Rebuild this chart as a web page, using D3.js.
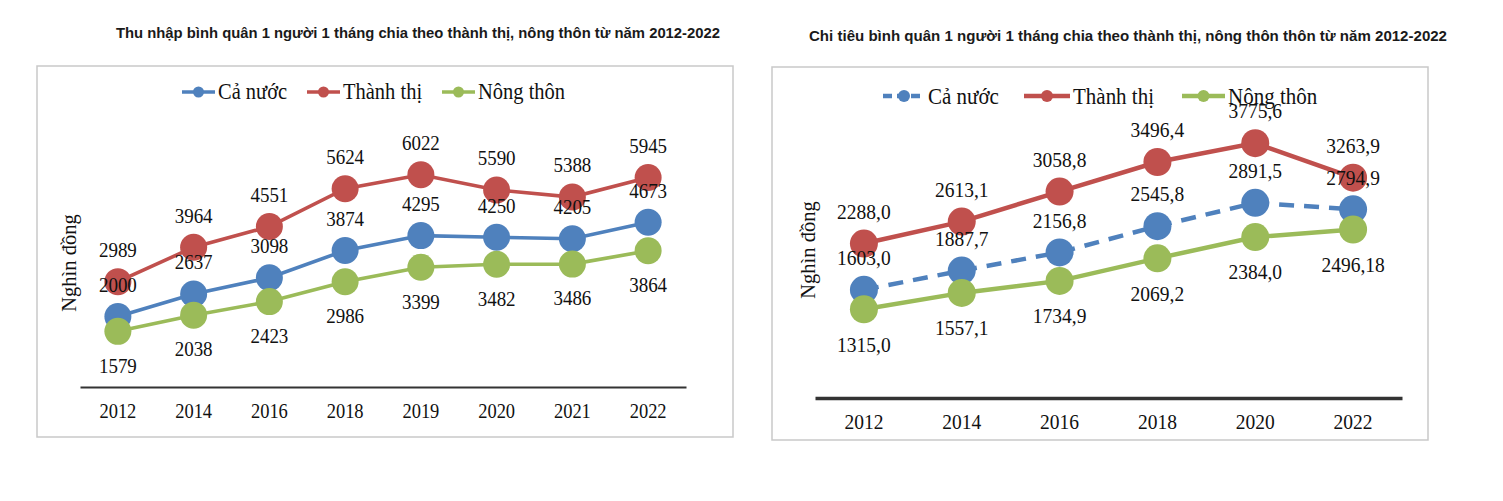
<!DOCTYPE html>
<html>
<head>
<meta charset="utf-8">
<script src="https://cdn.jsdelivr.net/npm/d3@7"></script>
<style>
  html, body { margin: 0; padding: 0; background: #fff; }
  svg { display: block; }
</style>
</head>
<body>
<svg id="chart" width="1503" height="501"></svg>
<script>
// ---------- DATA ----------
const seriesNames = ["Cả nước", "Thành thị", "Nông thôn"];

const incomeYears = ["2012", "2014", "2016", "2018", "2019", "2020", "2021", "2022"];
const incomeCaNuoc = [2000, 2637, 3098, 3874, 4295, 4250, 4205, 4673];
const incomeThanhThi = [2989, 3964, 4551, 5624, 6022, 5590, 5388, 5945];
const incomeNongThon = [1579, 2038, 2423, 2986, 3399, 3482, 3486, 3864];

const spendYears = ["2012", "2014", "2016", "2018", "2020", "2022"];
const spendCaNuoc = [1603.0, 1887.7, 2156.8, 2545.8, 2891.5, 2794.9];
const spendThanhThi = [2288.0, 2613.1, 3058.8, 3496.4, 3775.6, 3263.9];
const spendNongThon = [1315.0, 1557.1, 1734.9, 2069.2, 2384.0, 2496.18];

const incomeTitle = "Thu nhập bình quân 1 người 1 tháng chia theo thành thị, nông thôn từ năm 2012-2022";
const spendTitle = "Chi tiêu bình quân 1 người 1 tháng chia theo thành thị, nông thôn thôn từ năm 2012-2022";
const yAxisTitle = "Nghìn đồng";

// ---------- STYLE ----------
const colors = ["#4F81BD", "#C0504D", "#9BBB59"];
const serif = "'Liberation Serif', 'Times New Roman', serif";
const sans = "'Liberation Sans', Arial, sans-serif";
const vStretch = 1.1;

const svg = d3.select("#chart");

function fmtInt(v) { return String(v); }
function fmtComma(v) {
  const s = Math.abs(v * 10 - Math.round(v * 10)) < 1e-6 ? v.toFixed(1) : v.toFixed(2);
  return s.replace(".", ",");
}

// text that is slightly stretched vertically, like the reference image
function stext(parent, x, y, str, size, anchor) {
  return parent.append("text")
    .attr("transform", `translate(${x},${y}) scale(1,${vStretch})`)
    .attr("text-anchor", anchor || "middle")
    .attr("dominant-baseline", "central")
    .attr("font-family", serif).attr("font-size", size)
    .attr("fill", "#111")
    .text(str);
}

function drawChart(cfg) {
  const g = svg.append("g");

  // title
  g.append("text")
    .attr("x", cfg.titleX).attr("y", cfg.titleY)
    .attr("text-anchor", "middle")
    .attr("font-family", sans).attr("font-weight", "bold")
    .attr("font-size", cfg.titleSize)
    .attr("fill", "#1a1a1a")
    .attr("textLength", cfg.titleWidth)
    .attr("lengthAdjust", "spacingAndGlyphs")
    .text(cfg.title);

  // frame
  g.append("rect")
    .attr("x", cfg.box[0]).attr("y", cfg.box[1])
    .attr("width", cfg.box[2]).attr("height", cfg.box[3])
    .attr("fill", "#fff").attr("stroke", "#c9c9c9").attr("stroke-width", 1.5);

  const x = d3.scaleBand().domain(cfg.years).range([cfg.x0, cfg.x1]);
  const y = d3.scaleLinear().domain(cfg.yDomain).range([cfg.y0, cfg.y1]);
  const cx = d => x(d) + x.bandwidth() / 2;

  // x axis
  const xAxis = d3.axisBottom(x).tickSize(0).tickPadding(cfg.tickPad);
  const ax = g.append("g").attr("transform", `translate(0,${cfg.y0})`).call(xAxis);
  ax.select(".domain").attr("stroke", "#333").attr("stroke-width", cfg.axisWidth);
  ax.selectAll(".tick text")
    .attr("font-family", serif).attr("font-size", cfg.tickSize).attr("fill", "#111")
    .attr("dy", null).attr("y", null)
    .attr("dominant-baseline", "central")
    .attr("transform", `translate(0,${cfg.tickPad}) scale(1,${vStretch})`);

  // y axis title
  g.append("text")
    .attr("transform", `translate(${cfg.yTitleX},${cfg.yTitleY}) rotate(-90)`)
    .attr("text-anchor", "middle")
    .attr("dominant-baseline", "central")
    .attr("font-family", serif).attr("font-size", cfg.yTitleSize)
    .attr("fill", "#111")
    .text(yAxisTitle);

  const series = cfg.series.map((vals, i) => ({
    name: seriesNames[i], color: colors[i], dashed: cfg.dashed[i],
    pts: cfg.years.map((yr, j) => ({ yr, v: vals[j] }))
  }));

  const line = d3.line().x(d => cx(d.yr)).y(d => y(d.v));

  series.forEach(s => {
    g.append("path").datum(s.pts)
      .attr("fill", "none").attr("stroke", s.color)
      .attr("stroke-width", cfg.lineWidth)
      .attr("stroke-dasharray", s.dashed ? cfg.dash : null)
      .attr("d", line);
    g.selectAll(null).data(s.pts).enter().append("circle")
      .attr("cx", d => cx(d.yr)).attr("cy", d => y(d.v))
      .attr("r", cfg.markerR).attr("fill", s.color);
  });

  // data labels
  series.forEach((s, i) => {
    s.pts.forEach(d => {
      stext(g, cx(d.yr), y(d.v) + cfg.labelOffset[i], cfg.fmt(d.v), cfg.labelSize);
    });
  });

  // legend
  series.forEach((s, i) => {
    const L = cfg.legend[i];
    g.append("line")
      .attr("x1", L[0]).attr("x2", L[1]).attr("y1", cfg.legendY).attr("y2", cfg.legendY)
      .attr("stroke", s.color).attr("stroke-width", cfg.lineWidth)
      .attr("stroke-dasharray", s.dashed ? cfg.legendDash : null);
    g.append("circle").attr("cx", (L[0] + L[1]) / 2).attr("cy", cfg.legendY)
      .attr("r", cfg.legendR).attr("fill", s.color);
    stext(g, L[1] + 3, cfg.legendY, s.name, cfg.legendSize, "start");
  });
}

drawChart({
  title: incomeTitle, titleX: 418, titleY: 38, titleSize: 14, titleWidth: 604,
  box: [37, 66, 696, 371],
  years: incomeYears,
  series: [incomeCaNuoc, incomeThanhThi, incomeNongThon],
  dashed: [false, false, false],
  x0: 80, x1: 686, y0: 387, y1: 105, yDomain: [0, 8000],
  axisWidth: 2, tickPad: 24, tickSize: 18.5,
  yTitleX: 69, yTitleY: 263, yTitleSize: 20.5,
  lineWidth: 3.6, markerR: 13.5, dash: null,
  labelOffset: [-32, -32, 34], labelSize: 19, fmt: fmtInt,
  legendY: 92, legendSize: 20.5, legendR: 5.5,
  legend: [[182, 215], [307, 340], [442, 475]], legendDash: null
});

drawChart({
  title: spendTitle, titleX: 1128, titleY: 41, titleSize: 14, titleWidth: 638,
  box: [772, 67, 656, 373],
  years: spendYears,
  series: [spendCaNuoc, spendThanhThi, spendNongThon],
  dashed: [true, false, false],
  x0: 815, x1: 1402, y0: 398, y1: 128, yDomain: [0, 4000],
  axisWidth: 3.5, tickPad: 24, tickSize: 19.5,
  yTitleX: 808, yTitleY: 250, yTitleSize: 20.5,
  lineWidth: 4.5, markerR: 14, dash: "15,10",
  labelOffset: [-32, -32, 35], labelSize: 19.5, fmt: fmtComma,
  legendY: 96, legendSize: 21, legendR: 6,
  legend: [[883, 925], [1024, 1070], [1182, 1225]], legendDash: "9,5"
});
</script>
</body>
</html>
